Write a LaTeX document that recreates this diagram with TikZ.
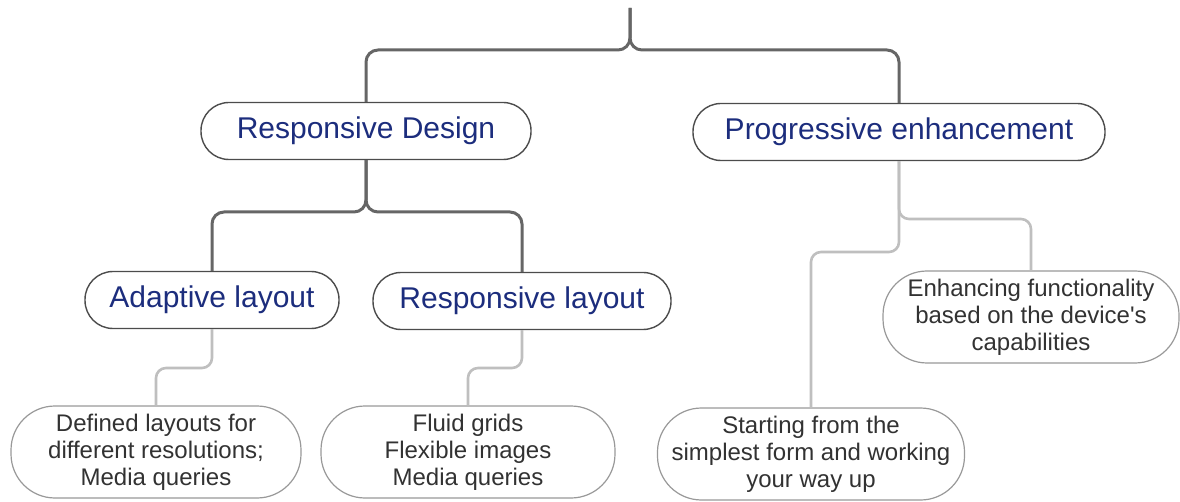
\documentclass[tikz,border=0pt]{standalone}
\usepackage{fontspec}
\setmainfont{Liberation Sans}
\usepackage{xcolor}
\usepackage{tikz}
\usetikzlibrary{positioning, calc}

\definecolor{headblue}{RGB}{28,45,125}
\definecolor{leafgray}{RGB}{50,50,50}

\tikzset{
  topic/.style={draw=black!70, line width=1.4pt, fill=white, rounded corners=28pt,
    minimum height=57pt, inner sep=0pt, text=headblue,
    font=\fontsize{30}{34}\selectfont},
  leaf/.style={draw=black!40, line width=1.2pt, fill=white, rounded corners=44pt,
    minimum height=92pt, inner sep=0pt, align=center, text=leafgray,
    font=\fontsize{24}{27}\selectfont},
  trunk/.style={draw=black!60, line width=3pt, rounded corners=12pt},
  twig/.style={draw=black!25, line width=2.6pt, rounded corners=10pt}
}

\begin{document}
\begin{tikzpicture}[x=1pt, y=-1pt]
\useasboundingbox (0,0) rectangle (1180,502);

% headings
\node[topic, minimum width=330pt] (rd) at (366,131) {Responsive Design};
\node[topic, minimum width=412pt] (pe) at (899,132) {Progressive enhancement};
\node[topic, minimum width=254pt] (al) at (212,300) {Adaptive layout};
\node[topic, minimum width=298pt] (rl) at (522,301) {Responsive layout};

% leaves
\node[leaf, minimum width=290pt] (dl) at (156,452) {Defined layouts for\\different resolutions;\\Media queries};
\node[leaf, minimum width=294pt] (fg) at (468,452) {Fluid grids\\Flexible images\\Media queries};
\node[leaf, minimum width=307pt] (sf) at (811,454) {Starting from the\\simplest form and working\\your way up};
\node[leaf, minimum width=296pt] (ef) at (1031,317) {Enhancing functionality\\based on the device\textquotesingle s\\capabilities};

% joints
\coordinate (top) at (630,8);
\coordinate (rootj) at (630,50);
\coordinate (rdj) at (366,212);
\coordinate (alj) at (212,368);
\coordinate (rlj) at (522,368);
\coordinate (pej) at (899,219);
\coordinate (pek) at (899,252);

% connectors
\draw[trunk] (top) -- (rootj) -| (rd.north);
\draw[trunk] (top) -- (rootj) -| (pe.north);
\draw[trunk] (rd.south) -- (rdj) -| (al.north);
\draw[trunk] (rd.south) -- (rdj) -| (rl.north);
\draw[twig] (al.south) -- (alj) -| (dl.north);
\draw[twig] (rl.south) -- (rlj) -| (fg.north);
\draw[twig] (pe.south) -- (pej) -| (ef.north);
\draw[twig] (pe.south) -- (pek) -| (sf.north);
\end{tikzpicture}
\end{document}
